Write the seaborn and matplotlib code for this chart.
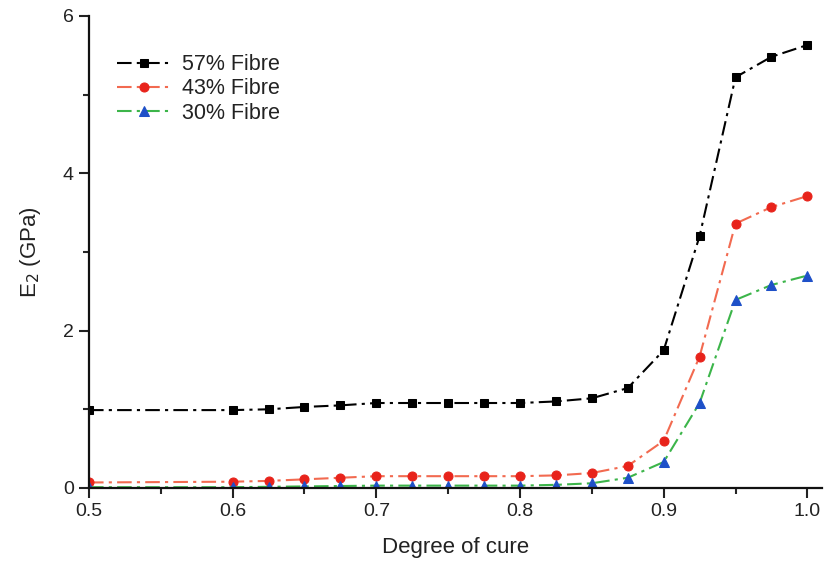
import matplotlib
matplotlib.use("Agg")
import matplotlib.pyplot as plt
import seaborn as sns
import pandas as pd
from matplotlib.ticker import MultipleLocator

degree_of_cure = [0.5, 0.6, 0.625, 0.65, 0.675, 0.7, 0.725, 0.75, 0.775, 0.8,
                  0.825, 0.85, 0.875, 0.9, 0.925, 0.95, 0.975, 1.0]
fibre_57 = [0.99, 0.99, 1.00, 1.03, 1.05, 1.08, 1.08, 1.08, 1.08, 1.08,
            1.10, 1.14, 1.27, 1.75, 3.20, 5.22, 5.48, 5.63]
fibre_43 = [0.07, 0.08, 0.09, 0.11, 0.13, 0.15, 0.15, 0.15, 0.15, 0.15,
            0.16, 0.19, 0.28, 0.60, 1.67, 3.36, 3.57, 3.71]
fibre_30 = [0.01, 0.01, 0.015, 0.02, 0.025, 0.03, 0.03, 0.03, 0.03, 0.03,
            0.04, 0.06, 0.13, 0.33, 1.08, 2.39, 2.58, 2.70]
labels = ["57% Fibre", "43% Fibre", "30% Fibre"]

sns.set_style("ticks")
plt.rcParams['font.family'] = ['Liberation Sans', 'DejaVu Sans']

fig = plt.figure(figsize=(8.27, 5.62), dpi=100)
ax = fig.add_axes([0.1076, 0.1317, 0.886, 0.84])

styles = [
    dict(color="#000000", marker="s", mfc="#000000", mec="#000000", ms=6),
    dict(color="#f26a50", marker="o", mfc="#e8231b", mec="#e8231b", ms=6.5),
    dict(color="#3cb54a", marker="^", mfc="#1e50c8", mec="#1e50c8", ms=7),
]
for vals, lab, st in zip([fibre_57, fibre_43, fibre_30], labels, styles):
    df = pd.DataFrame({"x": degree_of_cure, "y": vals})
    sns.lineplot(data=df, x="x", y="y", ax=ax, label=lab, color=st["color"],
                 marker=st["marker"], markerfacecolor=st["mfc"],
                 markeredgecolor=st["mec"], markersize=st["ms"],
                 linestyle=(0, (7, 2.5, 1.5, 2.5)), linewidth=1.5)

ax.set_xlim(0.5, 1.01)
ax.set_ylim(0, 6)
ax.xaxis.set_major_locator(MultipleLocator(0.1))
ax.xaxis.set_minor_locator(MultipleLocator(0.05))
ax.yaxis.set_major_locator(MultipleLocator(2))
ax.yaxis.set_minor_locator(MultipleLocator(1))
ax.set_xticks([0.5, 0.6, 0.7, 0.8, 0.9, 1.0])
ax.set_xticklabels(["0.5", "0.6", "0.7", "0.8", "0.9", "1.0"])
ax.tick_params(axis="both", which="major", length=7, width=1.5, labelsize=14,
               colors="#222222", direction="out", pad=4)
ax.tick_params(axis="both", which="minor", length=4, width=1.5, direction="out")
for s in ["left", "bottom"]:
    ax.spines[s].set_linewidth(1.6)
    ax.spines[s].set_color("#111111")
sns.despine(ax=ax)
ax.set_xlabel("Degree of cure", fontsize=16, color="#222222", labelpad=12)
ax.set_ylabel("E$_2$ (GPa)", fontsize=16, color="#222222", labelpad=14)
for lab in ax.get_xticklabels() + ax.get_yticklabels():
    lab.set_clip_on(False)

leg = ax.legend(loc="upper left", bbox_to_anchor=(0.012, 0.96), frameon=False,
                fontsize=15.5, handlelength=2.5, handletextpad=0.5, labelspacing=0.15)
for t in leg.get_texts():
    t.set_color("#222222")

fig.savefig("out.png", dpi=100)
